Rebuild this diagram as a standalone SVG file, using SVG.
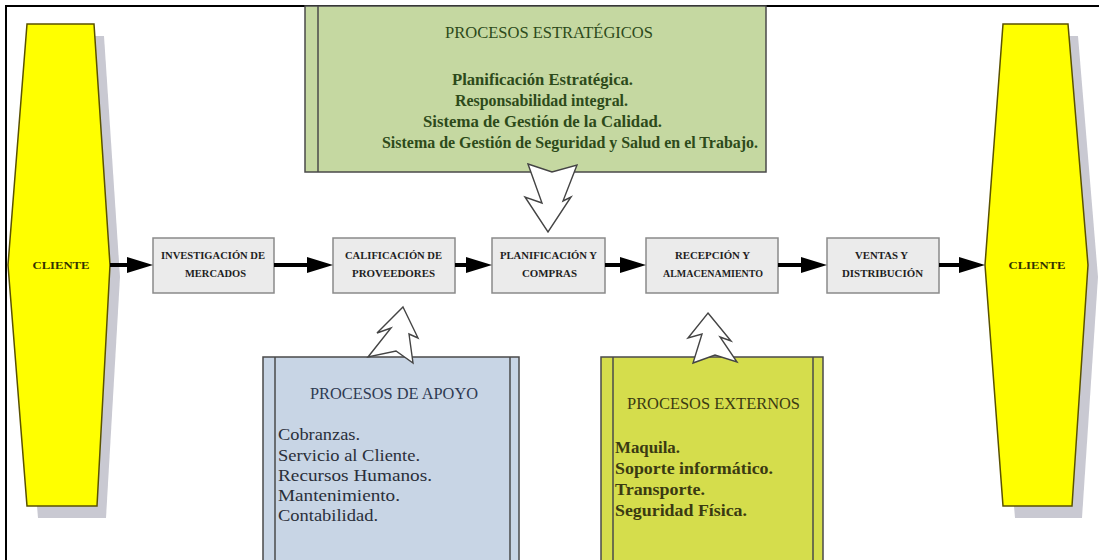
<svg xmlns="http://www.w3.org/2000/svg" width="1099" height="560" viewBox="0 0 1099 560">
<style>
.frame{stroke:#000;stroke-width:2;fill:none}
.client{fill:#ffff00;stroke:#5a5200;stroke-width:1.5}
.shadow{fill:#c9c9d2}
.clabel{font-family:"Liberation Serif",serif;font-weight:bold;font-size:11px;fill:#333300;text-anchor:middle}
.pbox{fill:#ebebeb;stroke:#8a8a8a;stroke-width:1.5}
.ptext{font-family:"Liberation Serif",serif;font-weight:bold;font-size:11px;fill:#1e1e1e}
.conn{stroke:#000;stroke-width:4;fill:none}
.bigtxt{font-family:"Liberation Serif",serif;font-size:16px}
.blk{fill:#fff;stroke:#444;stroke-width:1.4;stroke-linejoin:miter}
</style>
<defs>
<marker id="ah" viewBox="0 0 26 16" refX="14" refY="8" markerWidth="26" markerHeight="16" markerUnits="userSpaceOnUse" orient="auto">
<path d="M0,0 L26,8 L0,16 z" fill="#000"/>
</marker>
</defs>
<rect width="1099" height="560" fill="#fff"/>
<path class="frame" d="M6,560 V6 H1099"/>

<g id="estrategicos">
<rect x="305" y="6" width="461" height="166" fill="#c5d8a1" stroke="#4a4a4a" stroke-width="1.5"/>
<line x1="318" y1="6" x2="318" y2="172" stroke="#4a4a4a" stroke-width="1.5"/>
<text class="bigtxt" x="445" y="38" fill="#2d4a1a" textLength="208" lengthAdjust="spacingAndGlyphs">PROCESOS ESTRATÉGICOS</text>
<text class="bigtxt" x="452" y="85" fill="#2d4a1a" font-weight="bold" textLength="181" lengthAdjust="spacingAndGlyphs">Planificación Estratégica.</text>
<text class="bigtxt" x="455" y="106" fill="#2d4a1a" font-weight="bold" textLength="173" lengthAdjust="spacingAndGlyphs">Responsabilidad integral.</text>
<text class="bigtxt" x="423" y="127" fill="#2d4a1a" font-weight="bold" textLength="239" lengthAdjust="spacingAndGlyphs">Sistema de Gestión de la Calidad.</text>
<text class="bigtxt" x="382" y="148" fill="#2d4a1a" font-weight="bold" textLength="376" lengthAdjust="spacingAndGlyphs">Sistema de Gestión de Seguridad y Salud en el Trabajo.</text>
</g>

<g id="apoyo">
<rect x="263" y="357" width="256" height="210" fill="#c8d5e5" stroke="#4a4a4a" stroke-width="1.5"/>
<line x1="275" y1="357" x2="275" y2="560" stroke="#4a4a4a" stroke-width="1.5"/>
<line x1="510" y1="357" x2="510" y2="560" stroke="#4a4a4a" stroke-width="1.5"/>
<text class="bigtxt" x="310" y="399" fill="#2e3a52" textLength="168" lengthAdjust="spacingAndGlyphs">PROCESOS DE APOYO</text>
<text class="bigtxt" x="278" y="440" fill="#2a2f3a" textLength="82" lengthAdjust="spacingAndGlyphs">Cobranzas.</text>
<text class="bigtxt" x="278" y="461" fill="#2a2f3a" textLength="142" lengthAdjust="spacingAndGlyphs">Servicio al Cliente.</text>
<text class="bigtxt" x="278" y="481" fill="#2a2f3a" textLength="154" lengthAdjust="spacingAndGlyphs">Recursos Humanos.</text>
<text class="bigtxt" x="278" y="501" fill="#2a2f3a" textLength="122" lengthAdjust="spacingAndGlyphs">Mantenimiento.</text>
<text class="bigtxt" x="278" y="521" fill="#2a2f3a" textLength="100" lengthAdjust="spacingAndGlyphs">Contabilidad.</text>
</g>

<g id="externos">
<rect x="601" y="357" width="222" height="210" fill="#d5dd4c" stroke="#4a4a4a" stroke-width="1.5"/>
<line x1="613" y1="357" x2="613" y2="560" stroke="#4a4a4a" stroke-width="1.5"/>
<line x1="813" y1="357" x2="813" y2="560" stroke="#4a4a4a" stroke-width="1.5"/>
<text class="bigtxt" x="627" y="409" fill="#3a3a12" textLength="173" lengthAdjust="spacingAndGlyphs">PROCESOS EXTERNOS</text>
<text class="bigtxt" x="615" y="453" fill="#3a3a12" font-weight="bold" textLength="65" lengthAdjust="spacingAndGlyphs">Maquila.</text>
<text class="bigtxt" x="615" y="474" fill="#3a3a12" font-weight="bold" textLength="158" lengthAdjust="spacingAndGlyphs">Soporte informático.</text>
<text class="bigtxt" x="615" y="495" fill="#3a3a12" font-weight="bold" textLength="90" lengthAdjust="spacingAndGlyphs">Transporte.</text>
<text class="bigtxt" x="615" y="516" fill="#3a3a12" font-weight="bold" textLength="132" lengthAdjust="spacingAndGlyphs">Seguridad Física.</text>
</g>

<g id="cliente-izq">
<polygon class="shadow" points="37,36 104,36 120,277 106,518 38,518 18,277"/>
<polygon class="client" points="27,24 94,24 110,265 97,506 27,506 8,265"/>
<text class="clabel" x="61" y="269" textLength="57" lengthAdjust="spacingAndGlyphs">CLIENTE</text>
</g>

<g id="cliente-der">
<polygon class="shadow" points="1013,36 1078,36 1098,277 1082,518 1015,518 995,277"/>
<polygon class="client" points="1003,24 1068,24 1088,265 1072,506 1003,506 985,265"/>
<text class="clabel" x="1037" y="269" textLength="57" lengthAdjust="spacingAndGlyphs">CLIENTE</text>
</g>

<g id="investigacion">
<rect class="pbox" x="153" y="238" width="121" height="55"/>
<text class="ptext" x="161" y="259" textLength="104" lengthAdjust="spacingAndGlyphs">INVESTIGACIÓN DE</text>
<text class="ptext" x="185" y="277" textLength="61" lengthAdjust="spacingAndGlyphs">MERCADOS</text>
</g>
<g id="calificacion">
<rect class="pbox" x="333" y="238" width="122" height="55"/>
<text class="ptext" x="345" y="259" textLength="97" lengthAdjust="spacingAndGlyphs">CALIFICACIÓN DE</text>
<text class="ptext" x="352" y="277" textLength="83" lengthAdjust="spacingAndGlyphs">PROVEEDORES</text>
</g>
<g id="planificacion">
<rect class="pbox" x="492" y="238" width="113" height="55"/>
<text class="ptext" x="500" y="259" textLength="97" lengthAdjust="spacingAndGlyphs">PLANIFICACIÓN Y</text>
<text class="ptext" x="522" y="277" textLength="55" lengthAdjust="spacingAndGlyphs">COMPRAS</text>
</g>
<g id="recepcion">
<rect class="pbox" x="646" y="238" width="132" height="55"/>
<text class="ptext" x="675" y="259" textLength="75" lengthAdjust="spacingAndGlyphs">RECEPCIÓN Y</text>
<text class="ptext" x="663" y="277" textLength="100" lengthAdjust="spacingAndGlyphs">ALMACENAMIENTO</text>
</g>
<g id="ventas">
<rect class="pbox" x="827" y="238" width="112" height="55"/>
<text class="ptext" x="855" y="259" textLength="53" lengthAdjust="spacingAndGlyphs">VENTAS Y</text>
<text class="ptext" x="842" y="277" textLength="81" lengthAdjust="spacingAndGlyphs">DISTRIBUCIÓN</text>
</g>

<g id="connectors">
<line class="conn" x1="110" y1="265" x2="141" y2="265" marker-end="url(#ah)"/>
<line class="conn" x1="274" y1="265" x2="321" y2="265" marker-end="url(#ah)"/>
<line class="conn" x1="455" y1="265" x2="480" y2="265" marker-end="url(#ah)"/>
<line class="conn" x1="605" y1="265" x2="634" y2="265" marker-end="url(#ah)"/>
<line class="conn" x1="778" y1="265" x2="815" y2="265" marker-end="url(#ah)"/>
<line class="conn" x1="939" y1="265" x2="973" y2="265" marker-end="url(#ah)"/>
<polygon class="blk" points="528,164 552,172 577,165 563,201 571,197 548,232 525,197 542,203"/>
<polygon class="blk" points="403,307 418,338 409,334 413,363 396,351 368,357 391,328 377,333"/>
<polygon class="blk" points="708,313 731,341 720,337 737,362 715,355 693,363 702,334 688,338"/>
</g>
</svg>
